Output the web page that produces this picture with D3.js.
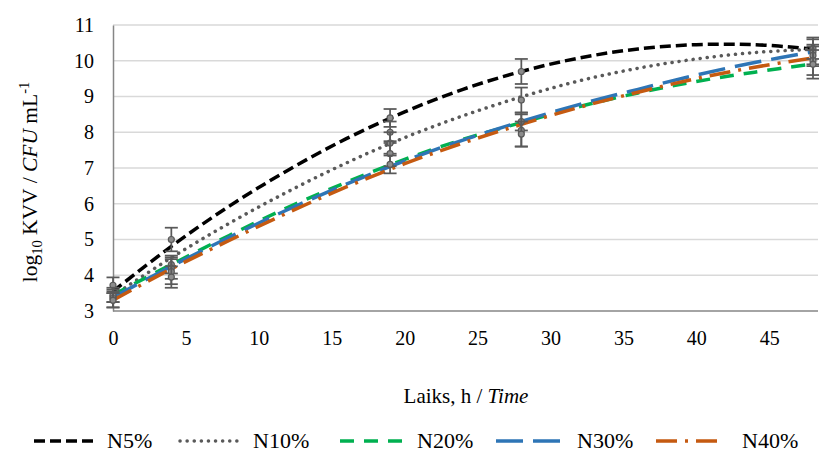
<!DOCTYPE html>
<html>
<head>
<meta charset="utf-8">
<script src="https://cdn.jsdelivr.net/npm/d3@7"></script>
<style>
  body { margin: 0; background: #fff; }
  svg text { font-family: "Liberation Serif", "Times New Roman", Tinos, "DejaVu Serif", serif !important; fill: #000; }
</style>
</head>
<body>
<script>
// fitted curves, every 4 h
const curveHours = [0, 4, 8, 12, 16, 20, 24, 28, 32, 36, 40, 44, 48];
const n5Curve  = [3.55, 4.81, 5.94, 6.94, 7.82, 8.57, 9.20, 9.70, 10.08, 10.33, 10.45, 10.45, 10.33];
const n10Curve = [3.43, 4.49, 5.46, 6.34, 7.14, 7.85, 8.46, 8.99, 9.44, 9.79, 10.05, 10.23, 10.32];
const n20Curve = [3.45, 4.30, 5.12, 5.90, 6.60, 7.24, 7.80, 8.27, 8.72, 9.10, 9.42, 9.68, 9.91];
const n30Curve = [3.38, 4.25, 5.07, 5.84, 6.55, 7.20, 7.78, 8.30, 8.78, 9.20, 9.60, 9.95, 10.25];
const n40Curve = [3.30, 4.18, 4.98, 5.75, 6.47, 7.12, 7.70, 8.22, 8.70, 9.12, 9.50, 9.82, 10.08];

// measured points with error bars
const pointHours = [0, 4, 19, 28, 48];
const n5Points  = [3.72, 5.00, 8.40, 9.70, 10.35];
const n10Points = [3.40, 4.30, 8.00, 8.90, 10.25];
const n20Points = [3.45, 4.20, 7.70, 8.30, 10.15];
const n30Points = [3.35, 4.10, 7.40, 8.05, 10.00];
const n40Points = [3.30, 3.95, 7.10, 7.95, 9.90];
const n5Err  = [0.22, 0.33, 0.25, 0.35, 0.30];
const n10Err = [0.15, 0.25, 0.30, 0.35, 0.35];
const n20Err = [0.20, 0.30, 0.30, 0.25, 0.30];
const n30Err = [0.25, 0.35, 0.35, 0.45, 0.40];
const n40Err = [0.20, 0.30, 0.25, 0.35, 0.40];

const seriesNames = ["N5%", "N10%", "N20%", "N30%", "N40%"];
const xTicks = [0, 5, 10, 15, 20, 25, 30, 35, 40, 45];
const yTicks = [3, 4, 5, 6, 7, 8, 9, 10, 11];

const curves = [n5Curve, n10Curve, n20Curve, n30Curve, n40Curve];
const points = [n5Points, n10Points, n20Points, n30Points, n40Points];
const errs = [n5Err, n10Err, n20Err, n30Err, n40Err];

const styles = [
  { color: "#000000", width: 3.5, dash: "11,5", cap: "butt" },
  { color: "#595959", width: 3.5, dash: "0.1,7", cap: "round" },
  { color: "#00b050", width: 3.5, dash: "14,10", cap: "butt" },
  { color: "#2e75b6", width: 3.5, dash: "27,10", cap: "butt" },
  { color: "#c55a11", width: 3.5, dash: "21,8,3,8", cap: "butt" }
];

const width = 819, height = 456;
const svg = d3.select("body").append("svg")
  .attr("width", width).attr("height", height);

const x = d3.scaleLinear().domain([0, 48]).range([113, 813]);
const y = d3.scaleLinear().domain([3, 11]).range([311, 25]);

// gridlines
svg.append("g").selectAll("line")
  .data(yTicks.filter(d => d > 3))
  .join("line")
  .attr("x1", x(0)).attr("x2", 818)
  .attr("y1", d => y(d)).attr("y2", d => y(d))
  .attr("stroke", "#d9d9d9").attr("stroke-width", 1.5);

// axes
const yAxis = svg.append("g")
  .attr("transform", `translate(${x(0)},0)`)
  .call(d3.axisLeft(y).tickValues(yTicks).tickSize(0).tickPadding(19));
yAxis.attr("font-family", null);
yAxis.select(".domain").attr("stroke", "#868686").attr("stroke-width", 1.5);
yAxis.selectAll("text").attr("font-size", 20);

const xAxis = svg.append("g")
  .attr("transform", `translate(0,${y(3)})`)
  .call(d3.axisBottom(x).tickValues(xTicks).tickSize(0).tickPadding(20));
xAxis.attr("font-family", null);
xAxis.select(".domain").attr("stroke", "#868686").attr("stroke-width", 1.5)
  .attr("d", `M${x(0)},0H818`);
xAxis.selectAll("text").attr("font-size", 20);

// fitted curves
const line = d3.line()
  .x((d, i) => x(curveHours[i]))
  .y(d => y(d))
  .curve(d3.curveCatmullRom);

svg.append("g").selectAll("path")
  .data(curves)
  .join("path")
  .attr("d", line)
  .attr("fill", "none")
  .attr("stroke", (d, i) => styles[i].color)
  .attr("stroke-width", (d, i) => styles[i].width)
  .attr("stroke-dasharray", (d, i) => styles[i].dash)
  .attr("stroke-linecap", (d, i) => styles[i].cap);

// error bars and markers
const capW = 6.5;
points.forEach((vals, s) => {
  const g = svg.append("g");
  const rows = vals.map((v, i) => ({ h: pointHours[i], v: v, e: errs[s][i] }));
  g.selectAll("line.bar").data(rows).join("line").attr("class", "bar")
    .attr("x1", d => x(d.h)).attr("x2", d => x(d.h))
    .attr("y1", d => y(d.v - d.e)).attr("y2", d => y(d.v + d.e))
    .attr("stroke", "#595959").attr("stroke-width", 1.75);
  g.selectAll("line.top").data(rows).join("line").attr("class", "top")
    .attr("x1", d => x(d.h) - capW).attr("x2", d => x(d.h) + capW)
    .attr("y1", d => y(d.v + d.e)).attr("y2", d => y(d.v + d.e))
    .attr("stroke", "#595959").attr("stroke-width", 1.75);
  g.selectAll("line.bot").data(rows).join("line").attr("class", "bot")
    .attr("x1", d => x(d.h) - capW).attr("x2", d => x(d.h) + capW)
    .attr("y1", d => y(d.v - d.e)).attr("y2", d => y(d.v - d.e))
    .attr("stroke", "#595959").attr("stroke-width", 1.75);
  g.selectAll("circle").data(rows).join("circle")
    .attr("cx", d => x(d.h)).attr("cy", d => y(d.v)).attr("r", 3)
    .attr("fill", "#8c8c8c").attr("stroke", "#595959").attr("stroke-width", 1.2);
});

// axis titles
svg.append("text")
  .attr("x", 466).attr("y", 403)
  .attr("text-anchor", "middle").attr("font-size", 21)
  .html('Laiks, h / <tspan font-style="italic">Time</tspan>');

svg.append("text")
  .attr("transform", "translate(37,182) rotate(-90)")
  .attr("text-anchor", "middle").attr("font-size", 21.5)
  .html('log<tspan font-size="14.5" dy="5">10</tspan><tspan dy="-5"> KVV / </tspan><tspan font-style="italic">CFU</tspan> mL<tspan font-size="14.5" dy="-8">-1</tspan>');

// legend
const legendX = [34, 180, 340, 496, 656];
const legendLen = [63, 63, 67, 71, 68];
const leg = svg.append("g");
seriesNames.forEach((name, i) => {
  leg.append("line")
    .attr("x1", legendX[i]).attr("x2", legendX[i] + legendLen[i])
    .attr("y1", 441).attr("y2", 441)
    .attr("stroke", styles[i].color)
    .attr("stroke-width", styles[i].width)
    .attr("stroke-dasharray", styles[i].dash)
    .attr("stroke-linecap", styles[i].cap);
  leg.append("text")
    .attr("x", legendX[i] + legendLen[i] + (i === 4 ? 18 : 10)).attr("y", 448)
    .attr("font-size", 22)
    .text(name);
});
</script>
</body>
</html>
